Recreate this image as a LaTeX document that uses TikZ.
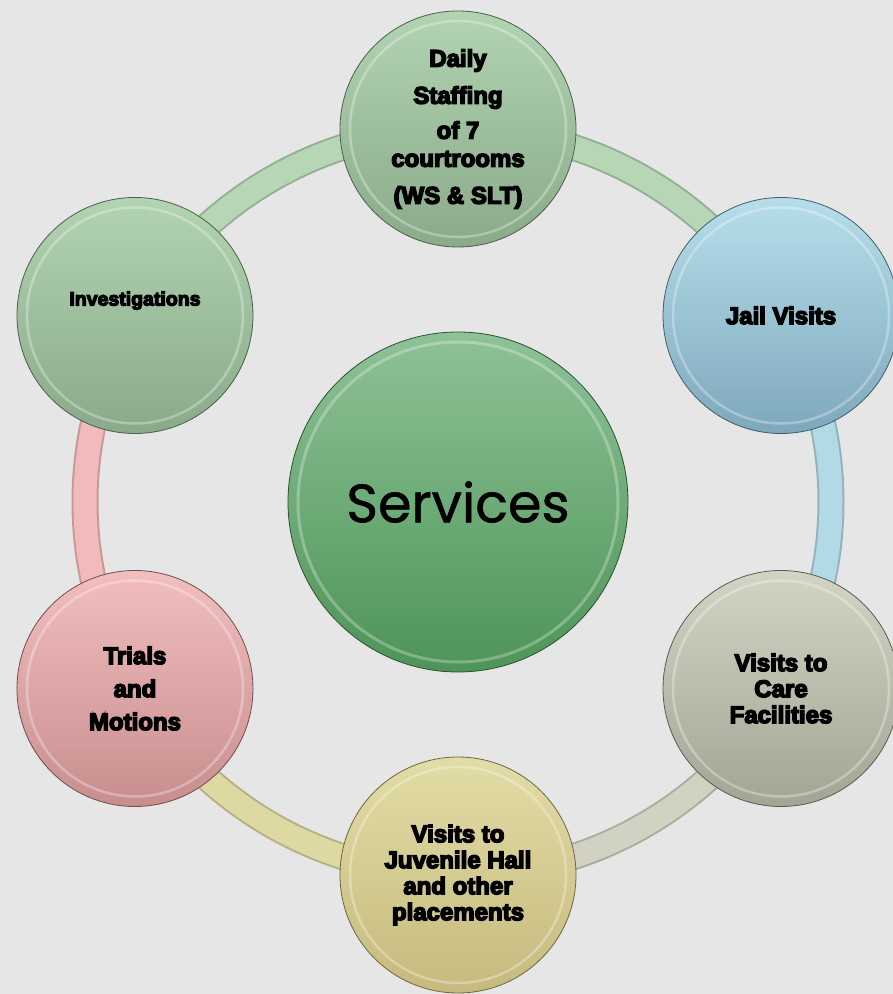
\documentclass[tikz,border=0pt]{standalone}
\usepackage{fontspec}
\newfontfamily\heavyfont{Liberation Sans Bold}[FakeBold=6]
\newfontfamily\hubfont{Poppins}[FakeBold=1]
\usetikzlibrary{backgrounds}
\definecolor{paper}{HTML}{E6E6E6}
\definecolor{sagetop}{HTML}{B2D4B2}
\definecolor{sagebot}{HTML}{8AAA8A}
\definecolor{skytop}{HTML}{B6DEEA}
\definecolor{skybot}{HTML}{7EA8BC}
\definecolor{stonetop}{HTML}{D4D4C4}
\definecolor{stonebot}{HTML}{A4A494}
\definecolor{sandtop}{HTML}{E2DCA6}
\definecolor{sandbot}{HTML}{C6BA7E}
\definecolor{rosetop}{HTML}{F2BEBE}
\definecolor{rosebot}{HTML}{C88E8E}
\definecolor{hubtop}{HTML}{8EC298}
\definecolor{hubbot}{HTML}{4E9458}
\definecolor{ringsage}{HTML}{B6D6B6}
\definecolor{ringsky}{HTML}{B2DAE6}
\definecolor{ringstone}{HTML}{D2D2C2}
\definecolor{ringsand}{HTML}{DED8A2}
\definecolor{ringrose}{HTML}{F2BABA}
\tikzset{
  satellite/.style 2 args={
    circle,
    minimum size=236pt,
    inner sep=0pt,
    top color=#1,
    bottom color=#2,
    draw=#2!55!black, line width=0.8pt,
    align=center,
    font=\heavyfont\fontsize{24}{26}\selectfont,
    path picture={
      \draw[white, opacity=.3, line width=2.5pt]
        (path picture bounding box.center) circle[radius=108pt];}},
  hub/.style={
    circle,
    minimum size=340pt,
    inner sep=0pt,
    top color=hubtop,
    bottom color=hubbot,
    draw=hubbot!55!black, line width=0.8pt,
    font=\hubfont\fontsize{54}{60}\selectfont,
    path picture={
      \draw[white, opacity=.28, line width=3pt]
        (path picture bounding box.center) circle[radius=160pt];}},
  ringpart/.style={
    draw=#1!82!black, line width=27pt,
    postaction={draw=#1, line width=23pt}},
}

\begin{document}
\begin{tikzpicture}[x=1pt, y=1pt]
  \clip (0,0) rectangle (893,994);
  \useasboundingbox (0,0) rectangle (893,994);

  \node[hub] (services) at (458,492) {Services};

  \node[satellite={sagetop}{sagebot}] (staffing) at ([shift={(90:373)}]services.center)
    {Daily\\[11pt]Staffing\\[9pt]of 7\\[2pt]courtrooms\\[11pt](WS \& SLT)};
  \node[satellite={skytop}{skybot}] (jail) at ([shift={(30:373)}]services.center)
    {Jail Visits};
  \node[satellite={stonetop}{stonebot}] (care) at ([shift={(-30:373)}]services.center)
    {Visits to\\Care\\Facilities};
  \node[satellite={sandtop}{sandbot}] (juvenile) at ([shift={(-90:373)}]services.center)
    {Visits to\\Juvenile Hall\\and other\\placements};
  \node[satellite={rosetop}{rosebot}] (trials) at ([shift={(210:373)}]services.center)
    {Trials\\[7pt]and\\[7pt]Motions};
  \node[satellite={sagetop}{sagebot}, font=\heavyfont\fontsize{19.5}{22}\selectfont]
    (investigations) at ([shift={(150:373)}]services.center)
    {\raisebox{34pt}{Investigations}};

  % ring behind the circles
  \begin{scope}[on background layer]
    \fill[paper] (0,0) rectangle (893,994);
    \draw[ringpart=ringsage] (staffing.center) arc[start angle=90, end angle=30, radius=373pt];
    \draw[ringpart=ringsky] (jail.center) arc[start angle=30, end angle=-30, radius=373pt];
    \draw[ringpart=ringstone] (care.center) arc[start angle=-30, end angle=-90, radius=373pt];
    \draw[ringpart=ringsand] (juvenile.center) arc[start angle=-90, end angle=-150, radius=373pt];
    \draw[ringpart=ringrose] (trials.center) arc[start angle=210, end angle=150, radius=373pt];
    \draw[ringpart=ringsage] (investigations.center) arc[start angle=150, end angle=90, radius=373pt];
  \end{scope}
\end{tikzpicture}
\end{document}
